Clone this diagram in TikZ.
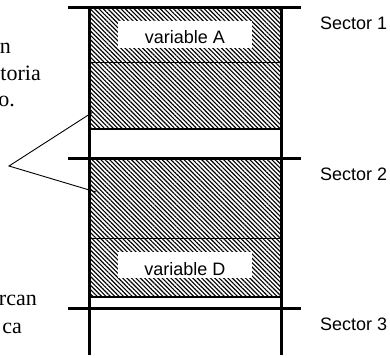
\documentclass[tikz,border=0pt]{standalone}
\usepackage{fontspec}
\setmainfont{Liberation Serif}
\newfontfamily\arialf{Liberation Sans}
\usetikzlibrary{patterns.meta}
\tikzset{
  hatch/.style={pattern={Lines[angle=-45,distance=3.1pt,line width=1.15pt]},pattern color=black},
  thickrule/.style={line width=3pt},
  thinrule/.style={line width=1pt},
  midrule/.style={line width=1.6pt},
  labelbox/.style={fill=white,draw=none},
  sectorlbl/.style={anchor=base west,inner sep=0,font=\arialf\fontsize{18}{21}\selectfont},
  varlbl/.style={anchor=base,inner sep=0,font=\arialf\fontsize{18}{21}\selectfont},
  sidetxt/.style={anchor=base east,inner sep=0,font=\fontsize{22}{26}\selectfont},
  callout/.style={line width=0.9pt}
}
\begin{document}
\begin{tikzpicture}[x=1pt,y=-1pt]
\useasboundingbox (0,0) rectangle (390,357);
\clip (0,0) rectangle (390,357);
% hatched regions
\fill[hatch] (89,7) rectangle (281,129);
\fill[hatch] (89,158) rectangle (281,297);
% white label boxes
\fill[labelbox] (118,21) rectangle (252,48);
\fill[labelbox] (118,252) rectangle (252,278);
% inner separators
\draw[thinrule] (89,62) -- (281,62);
\draw[midrule] (89,129) -- (281,129);
\draw[thinrule] (89,238) -- (281,238);
\draw[midrule] (89,297) -- (281,297);
% main frame
\draw[thickrule] (89,5.5) -- (89,355);
\draw[thickrule] (281,5.5) -- (281,355);
\draw[thickrule] (68,7) -- (301,7);
\draw[thickrule] (68,158) -- (301,158);
\draw[thickrule] (68,308) -- (301,308);
% labels
\node[varlbl] (varA) at (185,43) {variable A};
\node[varlbl] (varD) at (185,275.5) {variable D};
\node[sectorlbl] (s1) at (320,29) {Sector 1};
\node[sectorlbl] (s2) at (320,180) {Sector 2};
\node[sectorlbl] (s3) at (320,330) {Sector 3};
% side text (cut by the left edge)
\node[sidetxt] (t1) at (11,53) {n};
\node[sidetxt] (t2) at (41,80) {toria};
\node[sidetxt] (t3) at (15,106) {o.};
\node[sidetxt] (t4) at (37,305) {rcan};
\node[sidetxt] (t5) at (22,333) {ca};
% callout
\coordinate (apex) at (9,166);
\coordinate (upend) at (93,112);
\coordinate (lowend) at (96,192);
\draw[callout] (upend) -- (apex) -- (lowend);
\end{tikzpicture}
\end{document}
